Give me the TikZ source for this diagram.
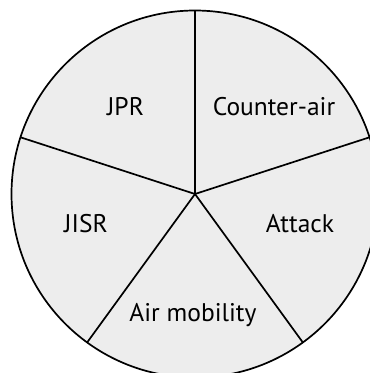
\documentclass[tikz,border=0pt]{standalone}
\usepackage{fontspec}
\setmainfont{PT Sans}
\usetikzlibrary{positioning,calc}
\tikzstyle{disc} = [draw, line width=1.7pt, fill=black!7]
\tikzstyle{spoke} = [line width=1.7pt]
\tikzstyle{role} = [anchor=base, inner sep=0pt, font=\fontsize{25.5}{30}\selectfont]

\begin{document}
\begin{tikzpicture}[x=1pt,y=1pt]
		\useasboundingbox (0,0) rectangle (370,373);
		\coordinate (c) at (195,179);
		\draw[disc] (c) circle (183.5pt);
		
		% spoke ends on the rim
		\foreach \a/\n in {90/n, 18/ne, -54/se, -126/sw, 162/nw}
			\coordinate (\n) at ($(c)+(\a:183.5pt)$);
		\foreach \n in {n, ne, se, sw, nw}
			\draw[spoke] (c) -- (\n);
		
		\node[role] (JPR) at (125.5,257) {JPR};
		\node[role] (counter) at (274,257) {Counter-air};
		\node[role] (JISR) at (86,140) {JISR};
		\node[role] (attack) at (300,140) {Attack};
		\node[role] (mobility) at (193,51.3) {Air mobility};
	\end{tikzpicture}
\end{document}
